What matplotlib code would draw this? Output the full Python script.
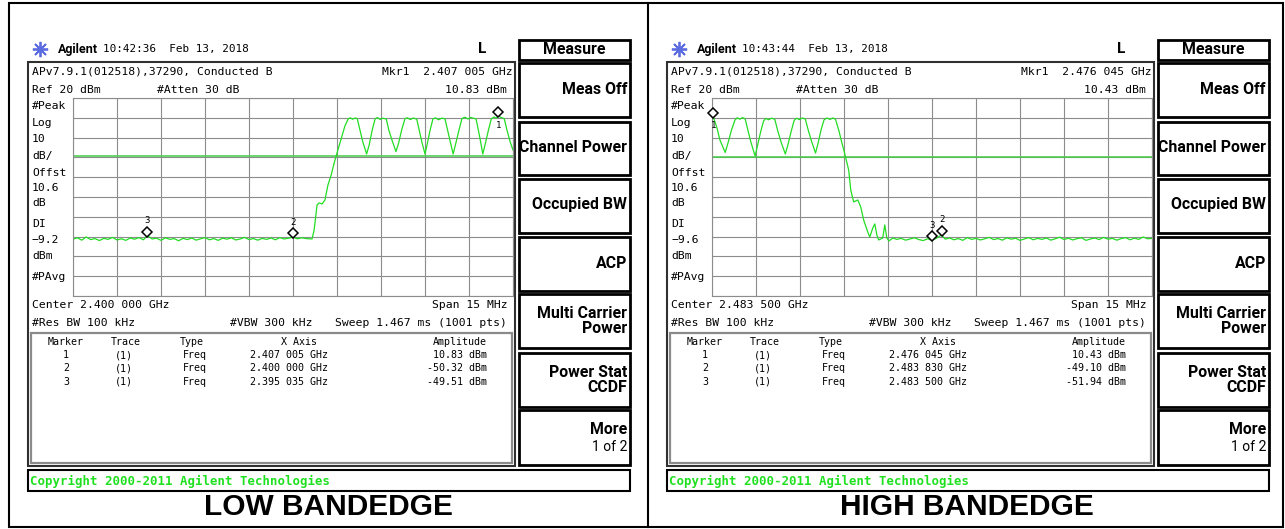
import matplotlib
matplotlib.use("Agg")
import matplotlib.pyplot as plt
from matplotlib import transforms
from matplotlib.patches import Rectangle

W, H = 1285, 529

MONO = "DejaVu Sans Mono"
NARROW = ["Roboto", "DejaVu Sans"]
ARIAL = "Liberation Sans"
TRACE = "#22dd22"
DL_GREEN = "#44cc44"
GRID = "#8c8c8c"

# ---- analyser settings ----
span_mhz = 15.0
ref_level = 20
db_per_div = 10
centers_mhz = [2400.0, 2483.5]
display_lines = [-9.2, -9.6]
sweep_times = ["10:42:36", "10:43:44"]
titles = ["LOW BANDEDGE", "HIGH BANDEDGE"]

# ---- trace (MHz, dBm) ----
low_freq = [
    2392.50, 2392.65, 2392.80, 2392.95, 2393.10, 2393.25, 2393.40, 2393.55,
    2393.70, 2393.85, 2394.00, 2394.15, 2394.30, 2394.45, 2394.60, 2394.75,
    2394.90, 2395.035, 2395.20, 2395.35, 2395.50, 2395.65, 2395.80, 2395.95,
    2396.10, 2396.25, 2396.40, 2396.55, 2396.70, 2396.85, 2397.00, 2397.15,
    2397.30, 2397.45, 2397.60, 2397.75, 2397.90, 2398.05, 2398.20, 2398.35,
    2398.50, 2398.65, 2398.80, 2398.95, 2399.10, 2399.25, 2399.40, 2399.55,
    2399.70, 2399.85, 2400.00, 2400.15, 2400.30, 2400.45, 2400.65, 2400.72,
    2400.82, 2400.89, 2400.99, 2401.09, 2401.19, 2401.30, 2401.40, 2401.50,
    2401.64, 2401.77, 2401.88, 2401.95, 2402.03, 2402.12, 2402.19, 2402.28,
    2402.38, 2402.51, 2402.60, 2402.70, 2402.80, 2402.88, 2402.97, 2403.07,
    2403.18, 2403.27, 2403.38, 2403.51, 2403.60, 2403.71, 2403.82, 2403.90,
    2404.00, 2404.10, 2404.22, 2404.31, 2404.40, 2404.50, 2404.58, 2404.67,
    2404.77, 2404.86, 2404.96, 2405.07, 2405.18, 2405.27, 2405.36, 2405.46,
    2405.55, 2405.66, 2405.76, 2405.86, 2405.96, 2406.06, 2406.16, 2406.24,
    2406.33, 2406.40, 2406.47, 2406.56, 2406.66, 2406.76, 2406.86, 2406.93,
    2407.005, 2407.10, 2407.20, 2407.30, 2407.40, 2407.50,
]
low_level = [
    -51.3, -50.6, -51.8, -50.2, -51.5, -51.0, -52.0, -50.9,
    -51.4, -50.4, -51.7, -51.1, -51.9, -50.7, -51.3, -50.5,
    -51.6, -49.5, -51.2, -50.8, -51.9, -50.6, -51.4, -51.0,
    -52.1, -50.9, -51.5, -50.7, -51.8, -51.1, -50.5, -51.6,
    -51.0, -51.9, -50.8, -51.3, -50.6, -51.7, -51.2, -50.4,
    -51.5, -51.0, -51.8, -50.9, -51.4, -50.7, -51.6, -50.5,
    -51.2, -50.8, -50.3, -51.1, -50.6, -51.0, -51.2, -46.7,
    -34.0, -33.0, -33.5, -31.5, -24.0, -19.0, -13.0, -7.8,
    -0.7, 5.9, 9.4, 10.0, 9.3, 9.9, 9.6, 4.0,
    -2.2, -8.3, -3.5, 3.8, 9.5, 10.1, 9.2, 9.8,
    9.4, 3.6, -1.5, -7.1, -2.8, 4.2, 9.6, 10.0,
    9.1, 9.9, 9.3, 3.2, -2.6, -8.3, -3.0, 3.5,
    9.4, 10.0, 9.0, 9.8, 9.5, 3.8, -2.0, -8.3,
    -2.9, 3.9, 9.6, 10.3, 9.4, 10.2, 9.7, 9.5,
    3.0, -2.5, -8.3, -2.8, 3.6, 9.5, 10.4, 9.8,
    10.83, 10.1, 9.6, 3.5, -2.0, -6.3,
]

# ---- trace (MHz, dBm) ----
high_freq = [
    2476.00, 2476.045, 2476.17, 2476.27, 2476.45, 2476.55, 2476.66, 2476.78,
    2476.86, 2476.95, 2477.04, 2477.13, 2477.22, 2477.32, 2477.47, 2477.56,
    2477.66, 2477.76, 2477.84, 2477.93, 2478.03, 2478.14, 2478.24, 2478.36,
    2478.50, 2478.60, 2478.70, 2478.80, 2478.88, 2478.98, 2479.08, 2479.18,
    2479.28, 2479.40, 2479.53, 2479.62, 2479.72, 2479.82, 2479.92, 2480.02,
    2480.12, 2480.21, 2480.32, 2480.42, 2480.52, 2480.66, 2480.73, 2480.83,
    2480.97, 2481.07, 2481.17, 2481.31, 2481.38, 2481.48, 2481.55, 2481.62,
    2481.68, 2481.82, 2481.89, 2481.96, 2482.03, 2482.17, 2482.30, 2482.45,
    2482.60, 2482.75, 2482.90, 2483.05, 2483.20, 2483.35, 2483.50, 2483.65,
    2483.83, 2483.95, 2484.10, 2484.25, 2484.40, 2484.55, 2484.70, 2484.85,
    2485.00, 2485.15, 2485.30, 2485.45, 2485.60, 2485.75, 2485.90, 2486.05,
    2486.20, 2486.35, 2486.50, 2486.65, 2486.80, 2486.95, 2487.10, 2487.25,
    2487.40, 2487.55, 2487.70, 2487.85, 2488.00, 2488.15, 2488.30, 2488.45,
    2488.60, 2488.75, 2488.90, 2489.05, 2489.20, 2489.35, 2489.50, 2489.65,
    2489.80, 2489.95, 2490.10, 2490.25, 2490.40, 2490.55, 2490.70, 2490.85,
    2491.00,
]
high_level = [
    10.1, 10.43, 4.8, -1.2, -7.5, -2.5, 3.6, 8.8,
    10.0, 9.3, 10.1, 9.5, 4.0, -2.0, -9.3, -3.5,
    3.0, 8.5, 9.7, 9.0, 9.8, 9.3, 3.5, -2.5,
    -8.3, -3.0, 3.2, 8.7, 9.8, 9.1, 9.9, 9.4,
    3.8, -2.2, -7.8, -2.6, 4.0, 9.0, 9.9, 9.2,
    9.9, 9.3, 3.8, -2.2, -7.8, -16.4, -26.5, -32.5,
    -31.5, -35.0, -41.6, -47.7, -50.2, -45.7, -43.6, -49.2,
    -51.7, -50.7, -44.1, -50.7, -52.2, -50.7, -51.4, -50.9,
    -51.8, -51.2, -50.6, -51.5, -52.0, -51.1, -51.94, -50.8,
    -49.1, -51.3, -50.7, -51.6, -51.0, -51.9, -50.5, -51.4,
    -50.9, -51.7, -51.1, -50.4, -51.5, -51.0, -51.8, -50.6,
    -51.3, -50.8, -51.9, -51.2, -50.5, -51.6, -50.9, -51.4,
    -50.7, -51.8, -51.1, -50.3, -51.5, -50.8, -51.7, -51.0,
    -50.6, -51.9, -51.2, -50.7, -51.5, -50.4, -51.3, -50.9,
    -51.8, -51.0, -50.5, -51.6, -50.8, -51.4, -50.2, -51.1,
    -50.9,
]

# ---- marker table values ----
low_marker_freq = [2407.005, 2400.000, 2395.035]
low_marker_amp = [10.83, -50.32, -49.51]
high_marker_freq = [2476.045, 2483.830, 2483.500]
high_marker_amp = [10.43, -49.10, -51.94]

softkeys = [
    ("Meas Off", 90), ("Channel Power", 147), ("Occupied BW", 205),
    ("ACP", 263), ("Multi Carrier\nPower", 321), ("Power Stat\nCCDF", 380),
]
softkey_boxes = [(63, 117), (122, 175), (179, 233), (237, 291),
                 (294, 348), (353, 407), (410, 465)]
side_labels = [
    ("#Peak", 106), ("Log", 123), ("10", 139), ("dB/", 156), ("Offst", 173),
    ("10.6", 188), ("dB", 203), ("DI", 224), (None, 240), ("dBm", 256),
    ("#PAvg", 277),
]


def fmt_ghz(mhz):
    s = f"{mhz / 1000:.6f}"
    return f"{s[:5]} {s[5:]} GHz"


def mono(bg, x, y, s, size=8.2, ha="left", **kw):
    bg.text(x, y, s, family=MONO, fontsize=size, ha=ha, va="center", **kw)


def draw_panel(fig, bg, ox, center, freq, level, dl, mk_f, mk_a, clock, title):
    # header line
    bg.plot(ox + 40, 49, marker=(8, 2, 0), ms=11, mew=1.3, color="#5b6be0")
    bg.text(ox + 58, 49, "Agilent", family=NARROW, weight="bold",
            fontsize=9, va="center")
    mono(bg, ox + 103, 49, f"{clock}  Feb 13, 2018", size=7.9)
    bg.text(ox + 482, 49, "L", family=NARROW, weight="bold", fontsize=11,
            ha="center", va="center")

    # screen frame and marker table frame
    bg.add_patch(Rectangle((ox + 28, 62), 487, 404, fill=False,
                           ec="#303030", lw=1.5))
    bg.add_patch(Rectangle((ox + 31, 333), 481, 130, fill=False,
                           ec="#8a8a8a", lw=1.6))

    mono(bg, ox + 32, 72, "APv7.9.1(012518),37290, Conducted B")
    mono(bg, ox + 513, 72, f"Mkr1  {fmt_ghz(mk_f[0])}", ha="right")
    mono(bg, ox + 32, 90, "Ref 20 dBm")
    mono(bg, ox + 157, 90, "#Atten 30 dB")
    mono(bg, ox + 507, 90, f"{mk_a[0]:.2f} dBm", ha="right")
    for s, y in side_labels:
        mono(bg, ox + 32, y, s if s else f"\u2212{abs(dl):.1f}")
    mono(bg, ox + 32, 305, f"Center {fmt_ghz(center)}")
    mono(bg, ox + 508, 305, "Span 15 MHz", ha="right")
    mono(bg, ox + 32, 323, "#Res BW 100 kHz")
    mono(bg, ox + 230, 323, "#VBW 300 kHz")
    mono(bg, ox + 507, 323, "Sweep 1.467 ms (1001 pts)", ha="right")

    # marker table
    t = 7.2
    mono(bg, ox + 66, 342, "Marker", t, "center")
    mono(bg, ox + 126, 342, "Trace", t, "center")
    mono(bg, ox + 192, 342, "Type", t, "center")
    mono(bg, ox + 299, 342, "X Axis", t, "center")
    mono(bg, ox + 487, 342, "Amplitude", t, "right")
    for i, (f, a) in enumerate(zip(mk_f, mk_a)):
        y = 355 + i * 13.4
        mono(bg, ox + 66, y, str(i + 1), t, "center")
        mono(bg, ox + 124, y, "(1)", t, "center")
        mono(bg, ox + 195, y, "Freq", t, "center")
        mono(bg, ox + 250, y, fmt_ghz(f), t)
        mono(bg, ox + 487, y, f"{a:.2f} dBm", t, "right")

    # softkey column
    bg.add_patch(Rectangle((ox + 519, 40), 111, 20, fill=False, ec="black", lw=2))
    bg.text(ox + 574.5, 50, "Measure", family=NARROW, weight="bold",
            fontsize=11.4, ha="center", va="center")
    for y0, y1 in softkey_boxes:
        bg.add_patch(Rectangle((ox + 519, y0), 111, y1 - y0, fill=False,
                               ec="black", lw=2))
    for s, y in softkeys:
        bg.text(ox + 627, y, s, family=NARROW, weight="bold", fontsize=11.4,
                ha="right", va="center", linespacing=1.05)
    bg.text(ox + 627, 429, "More", family=NARROW, weight="bold", fontsize=11.4,
            ha="right", va="center")
    bg.text(ox + 627, 447, "1 of 2", family=NARROW, fontsize=10,
            ha="right", va="center")

    # copyright bar and caption
    bg.add_patch(Rectangle((ox + 28, 470), 602, 21, fill=False, ec="black", lw=1.5))
    bg.text(ox + 30, 481, "Copyright 2000-2011 Agilent Technologies",
            family=MONO, weight="bold", fontsize=8.9, color="#1fe01f",
            va="center")
    bg.text(ox + 328, 507, title, family=ARIAL, weight="bold", fontsize=21.5,
            ha="center", va="center")

    # spectrum graticule
    ax = fig.add_axes([(ox + 73) / W, 1 - 296 / H, 440 / W, 198 / H])
    lo = center - span_mhz / 2
    ax.set_xlim(lo, lo + span_mhz)
    ax.set_ylim(ref_level - 10 * db_per_div, ref_level)
    ax.set_xticks([lo + span_mhz / 10 * k for k in range(11)])
    ax.set_yticks([ref_level - db_per_div * k for k in range(11)])
    ax.tick_params(length=0, labelbottom=False, labelleft=False)
    ax.grid(True, color=GRID, lw=0.8)
    for sp in ax.spines.values():
        sp.set_color(GRID)
        sp.set_linewidth(0.8)
    ax.axhline(dl, color=DL_GREEN, lw=1.1)
    ax.plot(freq, level, color=TRACE, lw=0.9)

    up = transforms.offset_copy(ax.transData, fig=fig, y=4, units="dots")
    ax.plot(mk_f, mk_a, ls="none", marker="D", ms=5, mfc="white", mec="black",
            mew=1.1, transform=up, clip_on=False, zorder=5)
    for i, (f, a) in enumerate(zip(mk_f, mk_a)):
        dy = -9 if i == 0 else 15
        ax.annotate(str(i + 1), (f, a), xytext=(0, dy * 0.72),
                    textcoords="offset points", ha="center", va="center",
                    family=MONO, fontsize=6.5, annotation_clip=False)


fig = plt.figure(figsize=(W / 100, H / 100), dpi=100)
bg = fig.add_axes([0, 0, 1, 1])
bg.set_xlim(0, W)
bg.set_ylim(H, 0)
bg.axis("off")

# outer frame with divider
bg.add_patch(Rectangle((9, 3), 1274, 524, fill=False, ec="black", lw=1.5))
bg.plot([648, 648], [3, 527], color="black", lw=1.5)

draw_panel(fig, bg, 0, centers_mhz[0], low_freq, low_level, display_lines[0],
           low_marker_freq, low_marker_amp, sweep_times[0], titles[0])
draw_panel(fig, bg, 639, centers_mhz[1], high_freq, high_level, display_lines[1],
           high_marker_freq, high_marker_amp, sweep_times[1], titles[1])

fig.savefig("out.png", dpi=100)
